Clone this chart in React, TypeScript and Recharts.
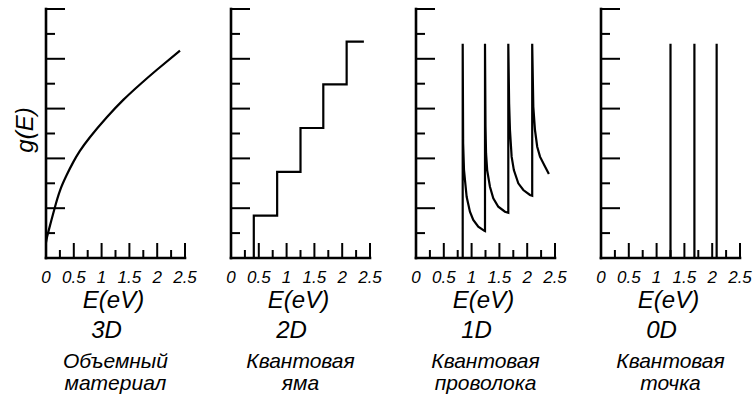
import { Line, LineChart, XAxis, YAxis } from 'recharts'

const FONT = "'Liberation Sans', Arial, sans-serif"

const ENERGY_TICKS = [0, 0.25, 0.5, 0.75, 1, 1.25, 1.5, 1.75, 2, 2.25, 2.5]
const DOS_TICKS = [0, 1, 2, 3, 4, 5, 6, 7, 8, 9, 10]

// 3D – bulk material, g ~ sqrt(E)
const bulkE = [0, 0.02, 0.05, 0.1, 0.16, 0.25, 0.37, 0.49, 0.61, 0.79, 1.09, 1.39, 1.69, 1.99, 2.41]
const bulkG = [0.62, 0.85, 1.12, 1.54, 2.04, 2.7, 3.32, 3.85, 4.3, 4.85, 5.64, 6.35, 6.97, 7.55, 8.33]

// 2D – quantum well, staircase
const wellEdges = [0.41, 0.83, 1.25, 1.66, 2.08]
const wellLevels = [1.7, 3.46, 5.22, 6.97, 8.69]
const wellEnd = 2.39

// 1D – quantum wire, 1/sqrt peaks
const wireE = [
  0.84, 0.84, 0.848, 0.863, 0.881, 0.911, 0.97, 1.03, 1.12, 1.23, 1.241,
  1.241, 1.25, 1.26, 1.28, 1.33, 1.39, 1.48, 1.6, 1.66,
  1.66, 1.675, 1.69, 1.72, 1.76, 1.84, 1.93, 2.05, 2.09,
  2.09, 2.11, 2.14, 2.18, 2.23, 2.32, 2.39,
]
const wireG = [
  0, 8.6, 4.6, 3.55, 3.13, 2.46, 1.86, 1.53, 1.26, 1.09, 1.08,
  8.6, 5.3, 4.2, 3.53, 2.86, 2.4, 2.06, 1.86, 1.82,
  8.6, 6.2, 5.14, 4.07, 3.53, 3.0, 2.73, 2.53, 2.5,
  8.6, 6.07, 5.14, 4.47, 4.07, 3.67, 3.37,
]

// 0D – quantum dot, discrete levels
const dotE = [1.25, 1.68, 2.08]
const dotPeak = 8.6

const titles = ['3D', '2D', '1D', '0D']
const names = [
  ['Объемный', 'материал'],
  ['Квантовая', 'яма'],
  ['Квантовая', 'проволока'],
  ['Квантовая', 'точка'],
]

const bulkData = bulkE.map((e, i) => ({ e, g: bulkG[i] }))
const wellData = [
  { e: wellEdges[0], g: 0 },
  ...wellEdges.map((e, i) => ({ e, g: wellLevels[i] })),
  { e: wellEnd, g: wellLevels[wellLevels.length - 1] },
]
const wireData = wireE.map((e, i) => ({ e, g: wireG[i] }))
const dotData = dotE.flatMap((e) => [
  { e, g: 0 },
  { e, g: dotPeak },
  { e, g: null },
])

const PLOT_W = 139
const panelLeft = [46, 231, 416, 601]

const axisStyle = { stroke: '#000', strokeWidth: 2.6, strokeLinecap: 'square' as const }

function EnergyTick(props: any) {
  const { x, y, payload } = props
  const v = payload.value as number
  const major = Math.abs(v * 2 - Math.round(v * 2)) < 1e-6
  const len = v === 0 ? 0 : major ? 15 : 8
  return (
    <g>
      {len > 0 && <line x1={x} x2={x} y1={y} y2={y - len} stroke="#000" strokeWidth={2} />}
      {major && (
        <text
          x={x}
          y={y + 25}
          textAnchor="middle"
          fontFamily={FONT}
          fontStyle="italic"
          fontSize={17}
          fill="#000"
        >
          {String(v)}
        </text>
      )}
    </g>
  )
}

function DosTick(props: any) {
  const { x, y, payload } = props
  const v = payload.value as number
  if (v === 0) return <g />
  const len = v % 2 === 0 ? 19 : 9
  return <line x1={x} x2={x + len} y1={y} y2={y} stroke="#000" strokeWidth={2} />
}

function Panel({ left, children }: { left: number; children: any }) {
  return (
    <div style={{ position: 'absolute', left: left - 20, top: 0 }}>
      <LineChart
        width={PLOT_W + 36}
        height={300}
        margin={{ top: 9, right: 16, bottom: 12, left: 19 }}
        style={{ overflow: 'visible' }}
      >
        <XAxis
          type="number"
          dataKey="e"
          domain={[0, 2.5]}
          ticks={ENERGY_TICKS}
          interval={0}
          height={30}
          tickSize={0}
          tickMargin={0}
          tickLine={false}
          axisLine={axisStyle}
          tick={EnergyTick}
          allowDataOverflow
        />
        <YAxis
          type="number"
          domain={[0, 10]}
          ticks={DOS_TICKS}
          interval={0}
          width={1}
          tickSize={0}
          tickMargin={0}
          tickLine={false}
          axisLine={axisStyle}
          tick={DosTick}
          allowDataOverflow
        />
        {children}
      </LineChart>
    </div>
  )
}

const lineProps = {
  dataKey: 'g',
  stroke: '#000',
  strokeWidth: 2.2,
  dot: false,
  activeDot: false,
  isAnimationActive: false,
}

export default function App() {
  const textBase = { fontFamily: FONT, fontStyle: 'italic' as const, fill: '#000' }
  return (
    <div
      style={{
        position: 'absolute',
        left: 0,
        top: 0,
        width: 756,
        height: 400,
        background: '#fff',
        overflow: 'hidden',
      }}
    >
      <Panel left={panelLeft[0]}>
        <Line {...lineProps} data={bulkData} type="natural" />
      </Panel>
      <Panel left={panelLeft[1]}>
        <Line {...lineProps} data={wellData} type="stepAfter" />
      </Panel>
      <Panel left={panelLeft[2]}>
        <Line {...lineProps} data={wireData} type="linear" />
      </Panel>
      <Panel left={panelLeft[3]}>
        <Line {...lineProps} data={dotData} type="linear" connectNulls={false} />
      </Panel>

      <svg
        width={756}
        height={400}
        style={{ position: 'absolute', left: 0, top: 0, pointerEvents: 'none' }}
      >
        <text
          transform="translate(33,130) rotate(-90)"
          textAnchor="middle"
          fontSize={24}
          {...textBase}
        >
          g(E)
        </text>
        {panelLeft.map((left, i) => {
          const cx = left + PLOT_W / 2
          return (
            <g key={titles[i]}>
              <text x={cx - 2} y={308} textAnchor="middle" fontSize={24} {...textBase}>
                E(eV)
              </text>
              <text x={cx - 9} y={338} textAnchor="middle" fontSize={24} {...textBase}>
                {titles[i]}
              </text>
              <text x={cx} y={368} textAnchor="middle" fontSize={21} {...textBase}>
                {names[i][0]}
              </text>
              <text x={cx} y={390} textAnchor="middle" fontSize={21} {...textBase}>
                {names[i][1]}
              </text>
            </g>
          )
        })}
      </svg>
    </div>
  )
}
